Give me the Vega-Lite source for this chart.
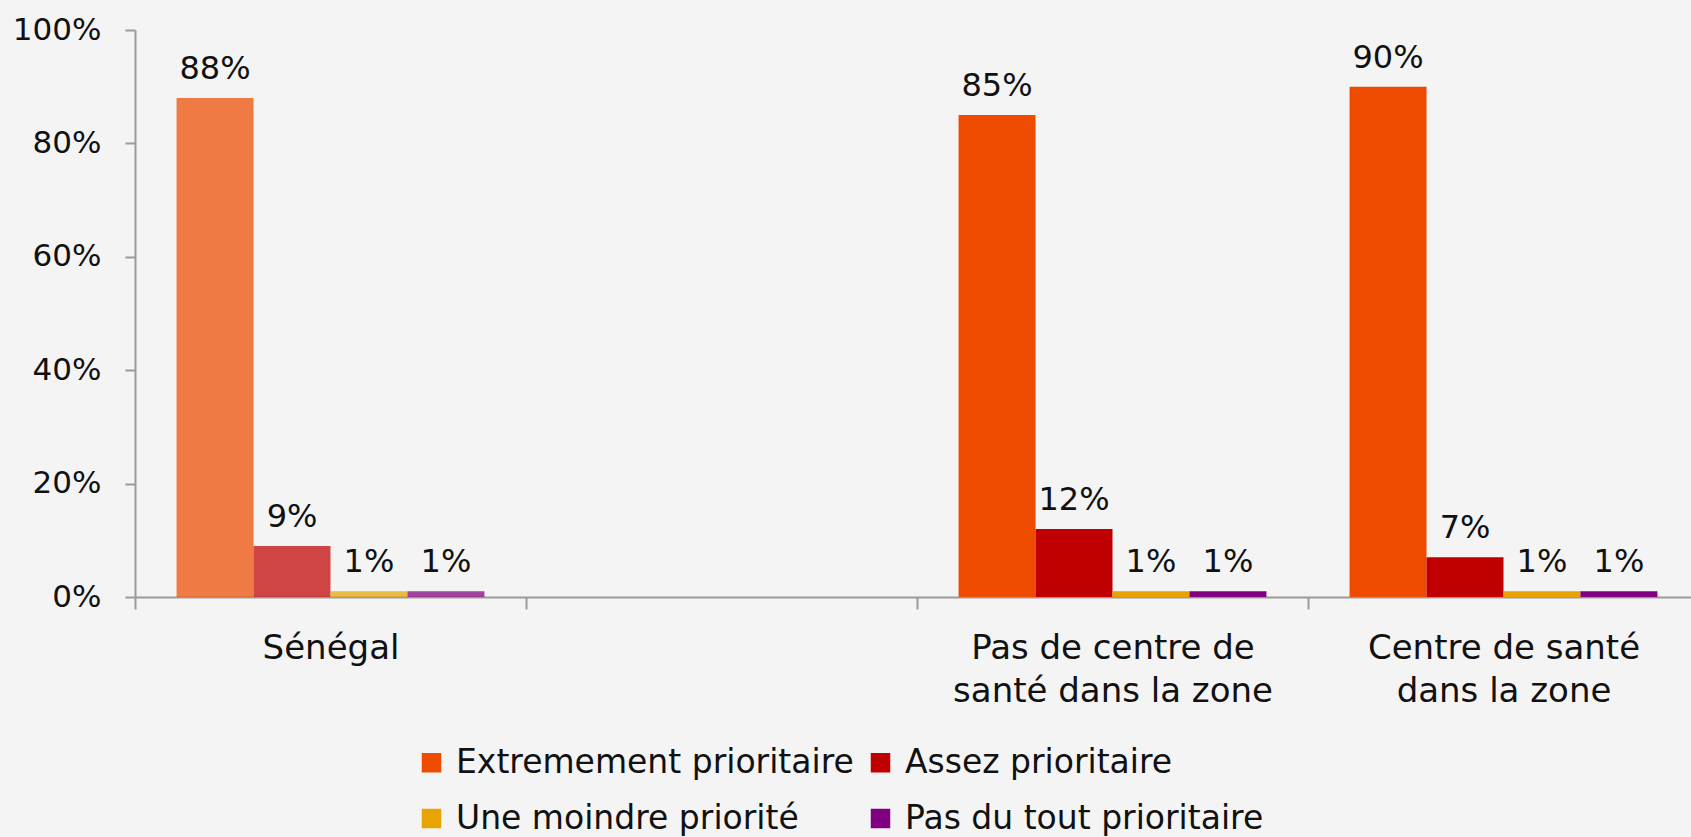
{
  "$schema": "https://vega.github.io/schema/vega-lite/v6.json",
  "width": 1564,
  "height": 567,
  "autosize": {"type": "none"},
  "padding": {"left": 135, "top": 30, "right": 0, "bottom": 240},
  "background": "#f4f4f4",
  "config": {
    "view": {"stroke": null},
    "font": "DejaVu Sans"
  },
  "data": {
    "values": [
      {"category": "Sénégal", "priority": "Extremement prioritaire", "value": 0.88},
      {"category": "Sénégal", "priority": "Assez prioritaire", "value": 0.09},
      {"category": "Sénégal", "priority": "Une moindre priorité", "value": 0.01},
      {"category": "Sénégal", "priority": "Pas du tout prioritaire", "value": 0.01},
      {"category": "Pas de centre de santé dans la zone", "priority": "Extremement prioritaire", "value": 0.85},
      {"category": "Pas de centre de santé dans la zone", "priority": "Assez prioritaire", "value": 0.12},
      {"category": "Pas de centre de santé dans la zone", "priority": "Une moindre priorité", "value": 0.01},
      {"category": "Pas de centre de santé dans la zone", "priority": "Pas du tout prioritaire", "value": 0.01},
      {"category": "Centre de santé dans la zone", "priority": "Extremement prioritaire", "value": 0.90},
      {"category": "Centre de santé dans la zone", "priority": "Assez prioritaire", "value": 0.07},
      {"category": "Centre de santé dans la zone", "priority": "Une moindre priorité", "value": 0.01},
      {"category": "Centre de santé dans la zone", "priority": "Pas du tout prioritaire", "value": 0.01}
    ]
  },
  "encoding": {
    "x": {
      "field": "category",
      "type": "nominal",
      "sort": null,
      "scale": {
        "domain": ["Sénégal", " ", "Pas de centre de santé dans la zone", "Centre de santé dans la zone"],
        "paddingInner": 0,
        "paddingOuter": 0
      },
      "axis": {
        "title": null,
        "labelAngle": 0,
        "labelFontSize": 34,
        "labelColor": "#111111",
        "labelBaseline": "top",
        "labelLineHeight": 43,
        "labelPadding": 22,
        "labelLimit": 0,
        "labelExpr": "datum.value == 'Pas de centre de santé dans la zone' ? ['Pas de centre de', 'santé dans la zone'] : datum.value == 'Centre de santé dans la zone' ? ['Centre de santé', 'dans la zone'] : datum.value",
        "tickBand": "extent",
        "tickSize": 12,
        "tickColor": "#9a9a9a",
        "tickWidth": 2,
        "domainColor": "#9a9a9a",
        "domainWidth": 2
      }
    },
    "xOffset": {
      "field": "priority",
      "type": "nominal",
      "sort": ["Extremement prioritaire", "Assez prioritaire", "Une moindre priorité", "Pas du tout prioritaire"],
      "scale": {"paddingInner": 0, "paddingOuter": 0.54}
    },
    "y": {
      "field": "value",
      "type": "quantitative",
      "scale": {"domain": [0, 1], "nice": false},
      "axis": {
        "title": null,
        "values": [0, 0.2, 0.4, 0.6, 0.8, 1],
        "format": ".0%",
        "grid": false,
        "labelFontSize": 31,
        "labelColor": "#111111",
        "labelPadding": 24,
        "tickSize": 10,
        "tickColor": "#9a9a9a",
        "tickWidth": 2,
        "domainColor": "#9a9a9a",
        "domainWidth": 2
      }
    }
  },
  "layer": [
    {
      "mark": {"type": "bar"},
      "encoding": {
        "color": {
          "field": "priority",
          "type": "nominal",
          "sort": ["Extremement prioritaire", "Assez prioritaire", "Une moindre priorité", "Pas du tout prioritaire"],
          "scale": {
            "domain": ["Extremement prioritaire", "Assez prioritaire", "Une moindre priorité", "Pas du tout prioritaire"],
            "range": ["#EE4B00", "#C00000", "#E8A202", "#800080"]
          },
          "legend": {
            "title": null,
            "orient": "none",
            "legendX": 280,
            "legendY": 716,
            "direction": "horizontal",
            "columns": 2,
            "labelFontSize": 33,
            "labelLimit": 0,
            "labelColor": "#111111",
            "symbolType": "square",
            "symbolSize": 380,
            "symbolStrokeWidth": 0,
            "labelOffset": 8,
            "rowPadding": 22,
            "columnPadding": 10
          }
        },
        "fillOpacity": {
          "condition": {"test": "datum.category === 'Sénégal'", "value": 0.72},
          "value": 1
        }
      }
    },
    {
      "mark": {"type": "text", "baseline": "bottom", "dy": -12, "fontSize": 32, "color": "#111111"},
      "encoding": {
        "text": {"field": "value", "type": "quantitative", "format": ".0%"}
      }
    }
  ]
}
